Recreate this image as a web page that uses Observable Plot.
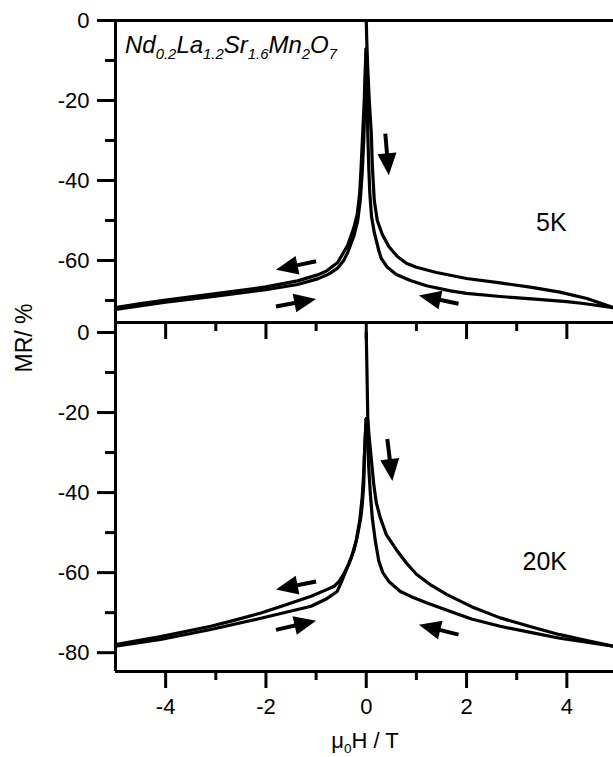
<!DOCTYPE html>
<html><head><meta charset="utf-8">
<script src="https://cdn.jsdelivr.net/npm/d3@7"></script>
<script src="https://cdn.jsdelivr.net/npm/@observablehq/plot@0.6"></script>
<style>
body{margin:0;background:#fff;}
#wrap{position:relative;width:613px;height:757px;overflow:hidden;font-family:"Liberation Sans",Arial,sans-serif;color:#000;background:#fff;}
#wrap svg{position:absolute;left:0;}
.lbl{position:absolute;white-space:nowrap;line-height:1;}
.s{font-size:0.62em;position:relative;top:0.38em;}
</style></head><body>
<div id="wrap">
  <div class="lbl" style="left:125px;top:33px;font-size:24px;font-style:italic;">Nd<span class="s">0.2</span>La<span class="s">1.2</span>Sr<span class="s">1.6</span>Mn<span class="s">2</span>O<span class="s">7</span></div>
  <div class="lbl" style="left:265px;width:200px;text-align:center;top:730px;font-size:22px;">μ<span class="s">0</span>H / T</div>
  <div class="lbl" style="left:24px;top:338px;font-size:23px;transform:translate(-50%,-50%) rotate(-90deg);">MR/ %</div>
</div>
<script>
// ---- axes / ticks ----
const xDomain = [-5, 4.93];
const xMajor = [-4, -2, 0, 2, 4];
const xMinor = [-3, -1, 1, 3];
const yDomainTop = [-75.5, 0];
const yMajorTop = [0, -20, -40, -60];
const yMinorTop = [-10, -30, -50, -70];
const yDomainBottom = [-84.7, 2.5];
const yMajorBottom = [0, -20, -40, -60, -80];
const yMinorBottom = [-10, -30, -50, -70];

// ---- 5 K branches [H (T), MR (%)] ----
const k5_up = [[0,0],[0.01,-5],[0.03,-12],[0.06,-20],[0.1,-28],[0.12,-36],[0.16,-45],[0.22,-50],[0.32,-53.5],[0.45,-56.5],[0.62,-59],[0.8,-60.7],[1.0,-61.7],[1.4,-63],[2.0,-64.5],[2.67,-65.6],[3.3,-66.7],[3.86,-67.9],[4.4,-69.5],[4.93,-71.8]];
const k5_down = [[4.93,-71.8],[4.33,-70.75],[4.0,-70.3],[3.3,-69.6],[2.67,-69.0],[2.0,-68.2],[1.68,-67.6],[1.2,-66.3],[0.88,-65.0],[0.6,-63.5],[0.42,-61.7],[0.3,-59.5],[0.25,-57.5],[0.16,-53],[0.105,-49],[0.07,-43],[0.05,-36.7],[0.03,-28],[0.02,-20],[0.01,-13],[0,-7]];
const k5_neg = [[0,-7],[-0.02,-12],[-0.04,-20],[-0.07,-28],[-0.1,-36],[-0.13,-43],[-0.18,-48.5],[-0.25,-51.9],[-0.37,-56.2],[-0.57,-60.5],[-0.8,-62.7],[-0.97,-63.6],[-1.37,-65.1],[-2,-66.6],[-3,-68.3],[-4,-69.9],[-4.5,-70.8],[-5,-71.8]];
const k5_back = [[-5,-72.2],[-4,-70.4],[-3,-68.9],[-2,-67.3],[-1.37,-66.0],[-0.97,-64.6],[-0.75,-63.4],[-0.57,-61.9],[-0.45,-60],[-0.37,-58],[-0.25,-54],[-0.17,-50],[-0.12,-45],[-0.08,-38],[-0.05,-30],[-0.03,-22],[-0.015,-14],[0,-7]];

// ---- 20 K branches ----
const k20_up = [[0,0],[0.01,-7],[0.02,-14],[0.03,-21],[0.05,-25],[0.085,-29.6],[0.15,-38],[0.2,-42.5],[0.28,-46.3],[0.4,-50.5],[0.62,-54.6],[0.8,-57.6],[1.0,-60.4],[1.3,-63.2],[1.61,-65.5],[2.1,-68.5],[2.67,-71.3],[3.3,-73.6],[3.86,-75.5],[4.4,-77.0],[4.93,-78.4]];
const k20_down = [[4.93,-78.4],[4.4,-77.4],[3.86,-76.4],[3.3,-75.0],[2.67,-73.4],[2.1,-71.6],[1.68,-69.7],[1.2,-67.5],[0.9,-66.0],[0.68,-64.7],[0.45,-62.2],[0.33,-60],[0.25,-57.1],[0.18,-52],[0.12,-46.3],[0.08,-40],[0.05,-33.8],[0.03,-28],[0.015,-24],[0,-21.5]];
const k20_neg = [[0,-21.5],[-0.02,-26],[-0.04,-32],[-0.05,-38],[-0.08,-43],[-0.11,-46.3],[-0.18,-51],[-0.25,-54.6],[-0.35,-57.8],[-0.45,-60.4],[-0.55,-62.3],[-0.64,-63.4],[-0.8,-64.3],[-1.1,-65.9],[-1.6,-68.0],[-2.1,-70.1],[-2.6,-71.8],[-3.1,-73.4],[-4.1,-76],[-5,-78]];
const k20_back = [[-5,-78.4],[-4.1,-76.7],[-3.1,-74.2],[-2.1,-71.4],[-1.6,-69.9],[-1.1,-68.4],[-0.8,-66.6],[-0.58,-64.7],[-0.5,-62.5],[-0.42,-60],[-0.3,-56.4],[-0.2,-52],[-0.13,-47],[-0.08,-41],[-0.05,-35],[-0.03,-29],[-0.015,-25],[0,-21.5]];

// ---- sweep-direction arrows (data coords: start -> tip) ----
const arrows5 = [
  {x1:0.38, y1:-28.3, x2:0.45, y2:-38.7},
  {x1:-1.0, y1:-60.2, x2:-1.8, y2:-62.3},
  {x1:-1.8, y1:-71.5, x2:-1.0, y2:-69.6},
  {x1:1.84, y1:-70.8, x2:1.05, y2:-68.75}
];
const arrows20 = [
  {x1:0.42, y1:-26.6, x2:0.52, y2:-37.1},
  {x1:-1.0, y1:-62.2, x2:-1.8, y2:-64.2},
  {x1:-1.8, y1:-74.3, x2:-1.0, y2:-72.0},
  {x1:1.84, y1:-75.5, x2:1.05, y2:-73.0}
];
const label5 = [{text:"5K", h:3.69, mr:-50.5}];
const label20 = [{text:"20K", h:3.56, mr:-57.25}];

// ---- layout ----
const W = 613, ML = 115, MT = 20;

const headSymbol = {
  draw(ctx) { ctx.moveTo(0, 0); ctx.lineTo(9.5, 22); ctx.lineTo(-9.5, 22); ctx.closePath(); }
};

function toTable(branches) {
  const rows = [];
  for (const [name, pts] of Object.entries(branches)) for (const [h, mr] of pts) rows.push({branch: name, h, mr});
  return rows;
}

function panel({branches, yDomain, yMajor, yMinor, arrows, label, height, marginBottom, xLabels, topLine}) {
  const X = d3.scaleLinear(xDomain, [ML, W]);
  const Y = d3.scaleLinear(yDomain, [height - marginBottom, MT]);
  const arr = arrows.map(a => {
    const dx = X(a.x2) - X(a.x1), dy = Y(a.y2) - Y(a.y1);
    const L = Math.hypot(dx, dy), ux = dx / L, uy = dy / L;
    return {...a,
      sx: X.invert(X(a.x2) - ux * 15), sy: Y.invert(Y(a.y2) - uy * 15),
      rot: Math.atan2(dy, dx) * 180 / Math.PI + 90};
  });
  const fmt = d => String(d);
  const marks = [
    Plot.ruleX([xDomain[0]], {strokeWidth: 3}),
    Plot.ruleY([yDomain[0]], {strokeWidth: 3}),
    Plot.axisY({ticks: yMajor, tickSize: 18, tickPadding: 8, strokeWidth: 3, tickFormat: fmt, label: null}),
    Plot.axisY({ticks: yMinor, tickSize: 10, strokeWidth: 3, tickFormat: () => "", label: null}),
    Plot.axisX({ticks: xMajor, tickSize: 17, tickPadding: 10, strokeWidth: 3, tickFormat: xLabels ? fmt : () => "", label: null}),
    Plot.axisX({ticks: xMinor, tickSize: 9, strokeWidth: 3, tickFormat: () => "", label: null}),
    Plot.line(toTable(branches), {x: "h", y: "mr", z: "branch", stroke: "black", strokeWidth: 3.2, strokeLinejoin: "round"}),
    Plot.link(arr, {x1: "x1", y1: "y1", x2: "sx", y2: "sy", stroke: "black", strokeWidth: 4}),
    Plot.dot(arr, {x: "x2", y: "y2", symbol: headSymbol, rotate: "rot", fill: "black", stroke: "none"}),
    Plot.text(label, {x: "h", y: "mr", text: "text", fontSize: 25})
  ];
  if (topLine) marks.unshift(Plot.ruleY([yDomain[1]], {strokeWidth: 3}));
  return Plot.plot({
    width: W, height, marginLeft: ML, marginRight: 0, marginTop: MT, marginBottom,
    x: {domain: xDomain}, y: {domain: yDomain},
    style: {background: "none", overflow: "visible", fontSize: "22px", fontFamily: "'Liberation Sans', Arial, sans-serif", color: "black"},
    marks
  });
}

const topPanel = panel({
  branches: {up: k5_up, down: k5_down, neg: k5_neg, back: k5_back},
  yDomain: yDomainTop, yMajor: yMajorTop, yMinor: yMinorTop,
  arrows: arrows5, label: label5, height: 345, marginBottom: 23, xLabels: false, topLine: true
});
const bottomPanel = panel({
  branches: {up: k20_up, down: k20_down, neg: k20_neg, back: k20_back},
  yDomain: yDomainBottom, yMajor: yMajorBottom, yMinor: yMinorBottom,
  arrows: arrows20, label: label20, height: 455, marginBottom: 86, xLabels: true, topLine: false
});
topPanel.style.top = "0px";
bottomPanel.style.top = "302px";
const wrap = document.getElementById("wrap");
wrap.appendChild(bottomPanel);
wrap.appendChild(topPanel);
</script></body></html>
